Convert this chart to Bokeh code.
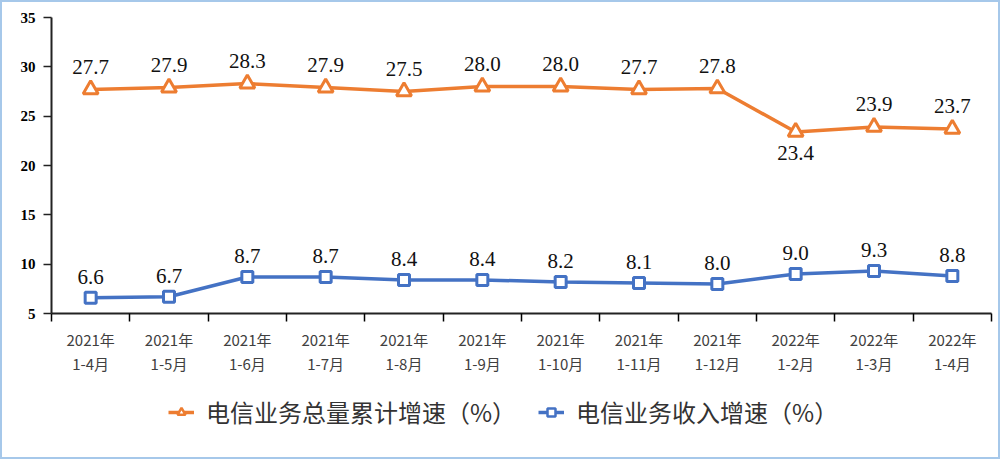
from bokeh.plotting import figure
from bokeh.layouts import column
from bokeh.models import FixedTicker, Legend, LegendItem, ColumnDataSource, Range1d
from bokeh.core.properties import value
from bokeh.embed import file_html
from bokeh.resources import INLINE

categories = ["2021年\n1-4月", "2021年\n1-5月", "2021年\n1-6月", "2021年\n1-7月",
              "2021年\n1-8月", "2021年\n1-9月", "2021年\n1-10月", "2021年\n1-11月",
              "2021年\n1-12月", "2022年\n1-2月", "2022年\n1-3月", "2022年\n1-4月"]
total_volume = [27.7, 27.9, 28.3, 27.9, 27.5, 28.0, 28.0, 27.7, 27.8, 23.4, 23.9, 23.7]
revenue = [6.6, 6.7, 8.7, 8.7, 8.4, 8.4, 8.2, 8.1, 8.0, 9.0, 9.3, 8.8]
volume_label_side = ["above"] * 9 + ["below", "above", "above"]
series_names = ["电信业务总量累计增速（%）", "电信业务收入增速（%）"]
y_ticks = [5, 10, 15, 20, 25, 30, 35]

ORANGE = "#ED7D31"
BLUE = "#4472C4"

n = len(categories)
xs = [i + 0.5 for i in range(n)]

p = figure(width=996, height=385, output_backend="svg", toolbar_location=None,
           x_range=Range1d(0, n), y_range=Range1d(5, 35),
           min_border_left=49, min_border_right=7, min_border_top=15, min_border_bottom=74)
p.outline_line_color = None
p.xgrid.grid_line_color = None
p.ygrid.grid_line_color = None
p.background_fill_color = "white"
p.border_fill_color = "white"

# x axis
p.xaxis.ticker = FixedTicker(ticks=xs, minor_ticks=list(range(n + 1)))
p.xaxis.major_label_overrides = {x: c for x, c in zip(xs, categories)}
p.xaxis.major_tick_out = 0
p.xaxis.major_tick_in = 0
p.xaxis.minor_tick_out = 8
p.xaxis.minor_tick_in = 0
p.xaxis.minor_tick_line_color = "#000000"
p.xaxis.minor_tick_line_width = 1.5
p.xaxis.axis_line_color = "#222222"
p.xaxis.axis_line_width = 2
p.xaxis.major_label_standoff = 7
p.xaxis.major_label_text_font = "Noto Sans CJK SC"
p.xaxis.major_label_text_font_size = "15px"
p.xaxis.major_label_text_color = "#404040"
p.xaxis.major_label_text_line_height = 1.15

# y axis
p.yaxis.ticker = FixedTicker(ticks=y_ticks)
p.yaxis.minor_tick_line_color = None
p.yaxis.major_tick_out = 8
p.yaxis.major_tick_in = 0
p.yaxis.major_tick_line_color = "#222222"
p.yaxis.major_tick_line_width = 1.5
p.yaxis.axis_line_color = "#222222"
p.yaxis.axis_line_width = 2
p.yaxis.major_label_standoff = 8
p.yaxis.major_label_text_font = "Liberation Serif"
p.yaxis.major_label_text_font_style = "bold"
p.yaxis.major_label_text_font_size = "15px"
p.yaxis.major_label_text_color = "#000000"

src = ColumnDataSource(dict(
    x=xs, vol=total_volume, rev=revenue,
    vol_lbl=[f"{v:.1f}" for v in total_volume],
    rev_lbl=[f"{v:.1f}" for v in revenue],
    vol_off=[-23 if s == "above" else 21 for s in volume_label_side],
))

p.line("x", "vol", source=src, line_color=ORANGE, line_width=3.5)
p.scatter("x", "vol", source=src, marker="triangle", size=15, fill_color="white",
          line_color=ORANGE, line_width=3)
p.line("x", "rev", source=src, line_color=BLUE, line_width=3.5)
p.scatter("x", "rev", source=src, marker="square", size=11, fill_color="white",
          line_color=BLUE, line_width=3)

p.text("x", "vol", text="vol_lbl", source=src, y_offset="vol_off",
       text_align="center", text_baseline="middle",
       text_font=value("Liberation Serif"), text_font_size="21px", text_color="#111111")
p.text("x", "rev", text="rev_lbl", source=src, y_offset=-21,
       text_align="center", text_baseline="middle",
       text_font=value("Liberation Serif"), text_font_size="21px", text_color="#111111")

# legend strip (separate figure so the legend is not clipped by the plot frame)
lg = figure(width=996, height=70, output_backend="svg", toolbar_location=None,
            x_axis_location=None, y_axis_location=None, min_border=0,
            x_range=Range1d(0, 1), y_range=Range1d(0, 1))
lg.outline_line_color = None
lg.xgrid.grid_line_color = None
lg.ygrid.grid_line_color = None
proxy = ColumnDataSource(dict(x=[5], y=[5]))  # legend proxies, outside the visible range
a1 = lg.line("x", "y", source=proxy, line_color=ORANGE, line_width=3.5)
b1 = lg.scatter("x", "y", source=proxy, marker="triangle", size=11, fill_color="white",
                line_color=ORANGE, line_width=2.5)
a2 = lg.line("x", "y", source=proxy, line_color=BLUE, line_width=3.5)
b2 = lg.scatter("x", "y", source=proxy, marker="square", size=9, fill_color="white",
                line_color=BLUE, line_width=2.5)

legend = Legend(items=[LegendItem(label=series_names[0], renderers=[a1, b1]),
                       LegendItem(label=series_names[1], renderers=[a2, b2])],
                orientation="horizontal", location=(117, 28))
legend.label_text_font = "Noto Sans CJK SC"
legend.label_text_font_size = "24px"
legend.label_text_color = "#333333"
legend.glyph_width = 26
legend.glyph_height = 20
legend.label_standoff = 12
legend.spacing = 22
legend.padding = 4
legend.margin = 0
legend.border_line_color = None
legend.background_fill_alpha = 0
lg.add_layout(legend, "center")

layout = column(p, lg, spacing=0)
layout.styles = {"border": "2px solid #A6C8EA"}

open("out.html", "w").write(file_html(layout, INLINE))
